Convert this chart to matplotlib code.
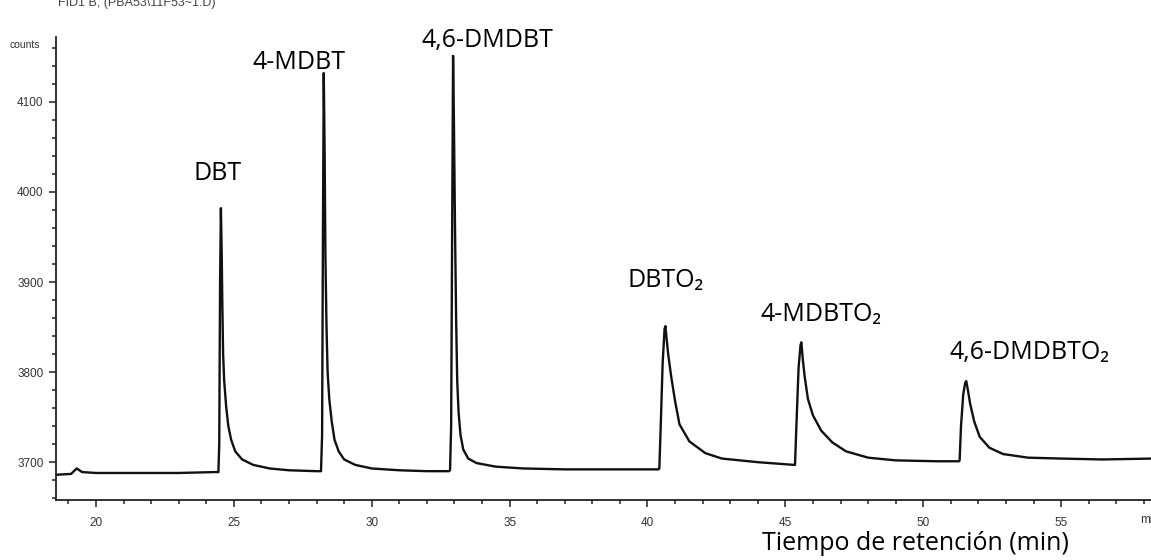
import matplotlib
matplotlib.use('Agg')
import matplotlib.pyplot as plt
import matplotlib.transforms as mtransforms
from matplotlib.ticker import MultipleLocator

# FID trace, points (time in min, counts)
t_min = [18.55, 19.1, 19.3, 19.5, 20.0, 21.0, 22.0, 23.0, 24.3,
         24.44, 24.47, 24.50, 24.53, 24.56, 24.58, 24.61, 24.65, 24.72, 24.80, 24.90, 25.05, 25.3, 25.7, 26.3, 27.0, 28.0,
         28.16, 28.20, 28.23, 28.26, 28.29, 28.32, 28.36, 28.40, 28.46, 28.55, 28.65, 28.80, 29.0, 29.4, 30.0, 31.0, 32.0, 32.8,
         32.84, 32.88, 32.92, 32.95, 32.98, 33.02, 33.06, 33.10, 33.15, 33.22, 33.32, 33.5, 33.8, 34.5, 35.5, 37.0, 39.0, 40.4,
         40.43, 40.48, 40.55, 40.62, 40.65, 40.70, 40.75, 40.86, 41.0, 41.16, 41.52, 42.1, 42.7, 44.0, 45.3,
         45.35, 45.40, 45.48, 45.55, 45.58, 45.63, 45.70, 45.82, 46.0, 46.3, 46.7, 47.2, 48.0, 49.0, 50.5, 51.3,
         51.32, 51.37, 51.45, 51.52, 51.56, 51.62, 51.70, 51.85, 52.05, 52.4, 52.9, 53.8, 55.0, 56.5, 58.3]
counts = [3686, 3687, 3693, 3689, 3688, 3688, 3688, 3688, 3689,
          3689, 3720, 3900, 3982, 3930, 3880, 3820, 3790, 3762, 3740, 3725, 3712, 3703, 3697, 3693, 3691, 3690,
          3690, 3730, 3950, 4132, 4050, 3930, 3850, 3800, 3770, 3745, 3725, 3712, 3703, 3697, 3693, 3691, 3690, 3690,
          3691, 3740, 3980, 4151, 4080, 3960, 3860, 3790, 3755, 3730, 3714, 3704, 3699, 3695, 3693, 3692, 3692, 3692,
          3693, 3740, 3810, 3848, 3851, 3835, 3820, 3795, 3768, 3742, 3723, 3710, 3704, 3700, 3697,
          3697, 3740, 3805, 3830, 3833, 3815, 3795, 3770, 3752, 3735, 3722, 3712, 3705, 3702, 3701, 3701,
          3702, 3740, 3775, 3788, 3790, 3780, 3765, 3745, 3728, 3716, 3709, 3705, 3704, 3703, 3704]

# peak labels
peak_names = ['DBT', '4-MDBT', '4,6-DMDBT', 'DBTO\u2082', '4-MDBTO\u2082', '4,6-DMDBTO\u2082']
label_t = [24.4, 27.35, 34.2, 40.65, 46.3, 53.85]
label_c = [4020, 4144, 4168, 3902, 3864, 3822]

fig = plt.figure(figsize=(11.51, 5.6), dpi=100)
ax = fig.add_axes([56 / 1151, 60 / 560, 1 - 56 / 1151, 463 / 560])

ax.plot(t_min, counts, color='#111111', lw=1.7)

ax.set_xlim(18.55, 58.26)
ax.set_ylim(3658, 4172)

# only left and bottom axes, like the instrument printout
ax.spines['top'].set_visible(False)
ax.spines['right'].set_visible(False)
for s in ['left', 'bottom']:
    ax.spines[s].set_linewidth(1.3)
    ax.spines[s].set_color('#222222')

ax.xaxis.set_minor_locator(MultipleLocator(1))
ax.yaxis.set_minor_locator(MultipleLocator(20))
ax.set_xticks([20, 25, 30, 35, 40, 45, 50, 55])
ax.set_yticks([3700, 3800, 3900, 4000, 4100])
ax.tick_params(which='major', direction='out', length=5, width=1.1, colors='#222222',
               labelsize=8.5, labelcolor='#333333')
ax.tick_params(which='minor', direction='out', length=3, width=1.1, colors='#222222')
ax.tick_params(axis='x', which='major', pad=7)
ax.tick_params(axis='y', which='major', pad=4)
for lab in ax.get_xticklabels() + ax.get_yticklabels():
    lab.set_family('Liberation Sans')

# "min" unit at the right end of the time axis, cut by the edge as in the printout
trans = mtransforms.blended_transform_factory(ax.transData, ax.transAxes)
ax.text(57.85, -0.043, 'min', transform=trans, ha='left', va='center',
        fontsize=8.5, color='#333333', family='Liberation Sans', clip_on=False)

for name, tx, cy in zip(peak_names, label_t, label_c):
    ax.text(tx, cy, name, ha='center', va='center', fontsize=18,
            family=['Open Sans', 'DejaVu Sans'], color='black', clip_on=False)

fig.text(58 / 1151, 1 - 3 / 560, 'FID1 B, (PBA53\\11F53~1.D)', ha='left', va='center',
         fontsize=9, color='#444444', family='Liberation Sans')
fig.text(10 / 1151, 1 - 45 / 560, 'counts', ha='left', va='center',
         fontsize=7.5, color='#333333', family='Liberation Sans')
fig.text(915 / 1151, 1 - 543 / 560, 'Tiempo de retención (min)', ha='center', va='center',
         fontsize=18, family=['Open Sans', 'DejaVu Sans'], color='black')

fig.savefig('out.png', dpi=100)
